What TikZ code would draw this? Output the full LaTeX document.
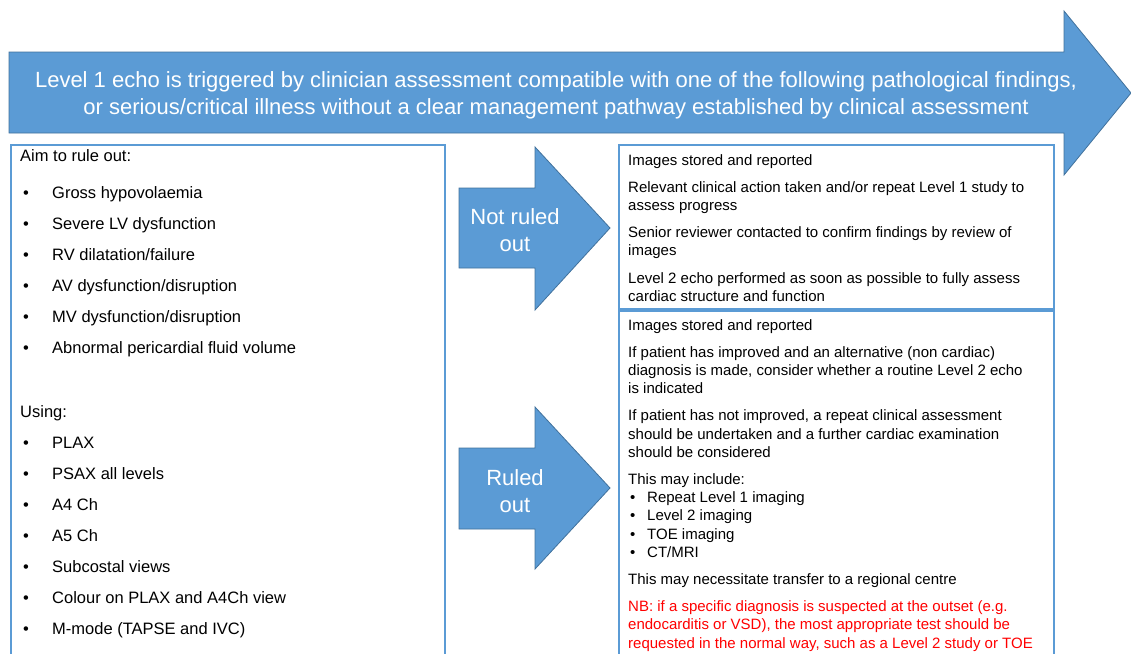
\documentclass[tikz,border=0pt]{standalone}
\usepackage{fontspec}
\setmainfont{Liberation Sans}
\usetikzlibrary{positioning}

\definecolor{pptblue}{RGB}{91,155,213}
\definecolor{pptedge}{RGB}{65,113,156}
\definecolor{nbred}{RGB}{255,0,0}

\newcommand{\leftbul}{\makebox[32pt][l]{\hspace{3pt}\textbullet}}
\newcommand{\rightbul}{\makebox[19pt][l]{\hspace{2pt}\textbullet}}

\begin{document}
\begin{tikzpicture}[x=1pt, y=-1pt,
    blockarrow/.style={fill=pptblue, draw=pptedge, line width=0.8pt},
    arrowlabel/.style={text=white, align=center, inner sep=0pt, font=\fontsize{22}{27}\selectfont},
    panel/.style={draw=pptblue, line width=2pt, anchor=north west, inner sep=0pt},
    bigtext/.style={align=left, inner sep=0pt, font=\fontsize{16.5}{31}\selectfont},
    smalltext/.style={align=left, inner sep=0pt, font=\fontsize{15}{18.2}\selectfont}
  ]
  \useasboundingbox (0,0) rectangle (1131,653);

  % block arrows
  \draw[blockarrow] (9,52) -- (1064,52) -- (1064,11) -- (1131,93) -- (1064,175)
    -- (1064,133) -- (9,133) -- cycle;
  \draw[blockarrow] (459,188) -- (535,188) -- (535,147) -- (610,228) -- (535,310)
    -- (535,268) -- (459,268) -- cycle;
  \draw[blockarrow] (459,448) -- (535,448) -- (535,407) -- (610,488) -- (535,569)
    -- (535,529) -- (459,529) -- cycle;

  \node[arrowlabel] (trigger) at (556,95.5) {Level 1 echo is triggered by clinician assessment compatible with one of the following pathological findings,\\
    or serious/critical illness without a clear management pathway established by clinical assessment};
  \node[arrowlabel] (notruled) at (515,230) {Not ruled\\ out};
  \node[arrowlabel] (ruled) at (515,491) {Ruled\\ out};

  % panels
  \node[panel, minimum width=434pt, minimum height=560pt] (scanbox) at (10,144) {};
  \node[panel, minimum width=435pt, minimum height=164pt] (actbox) at (618,144) {};
  \node[panel, minimum width=435pt, minimum height=400pt] (followbox) at (618,310) {};

  \node[bigtext, below right=5pt and 10pt of scanbox.north west] (scanlist) {Aim to rule out:\\[6pt]
    \leftbul Gross hypovolaemia\\
    \leftbul Severe LV dysfunction\\
    \leftbul RV dilatation/failure\\
    \leftbul AV dysfunction/disruption\\
    \leftbul MV dysfunction/disruption\\
    \leftbul Abnormal pericardial fluid volume\\[33pt]
    Using:\\
    \leftbul PLAX\\
    \leftbul PSAX all levels\\
    \leftbul A4 Ch\\
    \leftbul A5 Ch\\
    \leftbul Subcostal views\\
    \leftbul Colour on PLAX and A4Ch view\\
    \leftbul M-mode (TAPSE and IVC)};

  \node[smalltext, below right=10pt and 10pt of actbox.north west] (actlist) {Images stored and reported\\[9pt]
    Relevant clinical action taken and/or repeat Level 1 study to\\
    assess progress\\[9pt]
    Senior reviewer contacted to confirm findings by review of\\
    images\\[9pt]
    Level 2 echo performed as soon as possible to fully assess\\
    cardiac structure and function};

  \node[smalltext, below right=9pt and 10pt of followbox.north west] (followlist) {Images stored and reported\\[9pt]
    If patient has improved and an alternative (non cardiac)\\
    diagnosis is made, consider whether a routine Level 2 echo\\
    is indicated\\[9pt]
    If patient has not improved, a repeat clinical assessment\\
    should be undertaken and a further cardiac examination\\
    should be considered\\[9pt]
    This may include:\\
    \rightbul Repeat Level 1 imaging\\
    \rightbul Level 2 imaging\\
    \rightbul TOE imaging\\
    \rightbul CT/MRI\\[9pt]
    This may necessitate transfer to a regional centre\\[9pt]
    \textcolor{nbred}{NB: if a specific diagnosis is suspected at the outset (e.g.}\\
    \textcolor{nbred}{endocarditis or VSD), the most appropriate test should be}\\
    \textcolor{nbred}{requested in the normal way, such as a Level 2 study or TOE}};
\end{tikzpicture}
\end{document}
